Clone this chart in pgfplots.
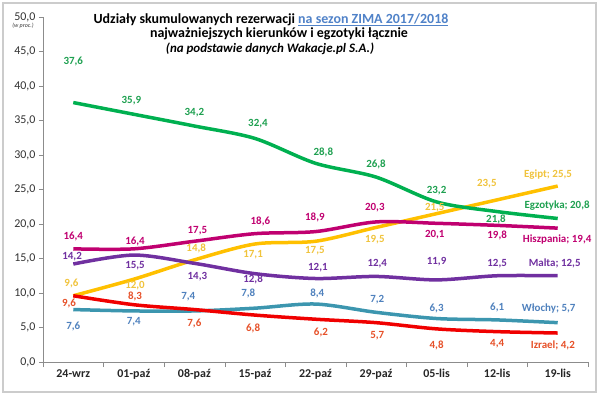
\documentclass[border=0pt]{standalone}
\usepackage{pgfplots}
\pgfplotsset{compat=1.18}
\usepackage{fontspec}
\setmainfont{Carlito}
\definecolor{cgreen}{RGB}{0,176,80}
\definecolor{cgreenlab}{RGB}{30,160,80}
\definecolor{cyellow}{RGB}{255,192,0}
\definecolor{cyellowlab}{RGB}{240,195,60}
\definecolor{cmag}{RGB}{192,0,112}
\definecolor{cpurple}{RGB}{112,48,160}
\definecolor{cteal}{RGB}{60,150,175}
\definecolor{cbluelab}{RGB}{79,129,189}
\definecolor{cred}{RGB}{240,0,0}
\definecolor{credlab}{RGB}{230,80,40}
\definecolor{ctitle}{RGB}{80,130,200}
\pgfplotsset{
  labnodes/.style={draw=none, forget plot, nodes near coords, point meta=explicit,
    nodes near coords={#1\pgfmathprintnumber[fixed,fixed zerofill,precision=1,use comma,assume math mode=true]{\pgfplotspointmeta}},
    every node near coord/.append style={anchor=center, font=\bfseries\fontsize{11}{13}\selectfont}},
  labnodes/.default={},
}
\begin{document}
\begin{tikzpicture}
\useasboundingbox (-43bp,-34bp) rectangle (557bp,362bp);
\draw[black!20, line width=1.2bp] (-40bp,-30bp) rectangle (553bp,359bp);
\begin{axis}[
  at={(0,0)}, anchor=south west, scale only axis,
  width=545bp, height=345bp,
  xmin=-0.5, xmax=8.5, ymin=0, ymax=50,
  ytick={0,5,...,50},
  xtick={0,...,8},
  xticklabels={24-wrz,01-paź,08-paź,15-paź,22-paź,29-paź,05-lis,12-lis,19-lis},
  minor xtick={-0.5,0.5,...,8.5},
  major x tick style={draw=none},
  minor x tick style={black!45},
  ytick style={black!45},
  axis x line*=bottom, axis y line*=left,
  axis line style={black!45,-},
  tick align=outside,
  major tick length=4bp, minor tick length=5bp,
  xticklabel style={font=\bfseries\fontsize{12}{14}\selectfont, text=black!85},
  yticklabel style={font=\fontsize{12}{14}\selectfont, text=black!80,
    /pgf/number format/.cd, fixed, fixed zerofill, precision=1, use comma, assume math mode=true},
  clip=false,
]
\pgfplotsset{every axis plot/.append style={line width=3.5bp}}
% Egipt
\addplot[cyellow, smooth, tension=0.5] coordinates {(0,9.6)(1,12.0)(2,14.8)(3,17.1)(4,17.5)(5,19.5)(6,21.5)(7,23.5)(8,25.5)};
% Hiszpania
\addplot[cmag, smooth, tension=0.5] coordinates {(0,16.4)(1,16.4)(2,17.5)(3,18.6)(4,18.9)(5,20.3)(6,20.1)(7,19.8)(8,19.4)};
% Malta
\addplot[cpurple, smooth, tension=0.5] coordinates {(0,14.2)(1,15.5)(2,14.3)(3,12.8)(4,12.1)(5,12.4)(6,11.9)(7,12.5)(8,12.5)};
% Wlochy
\addplot[cteal, smooth, tension=0.5] coordinates {(0,7.6)(1,7.4)(2,7.4)(3,7.8)(4,8.4)(5,7.2)(6,6.3)(7,6.1)(8,5.7)};
% Izrael
\addplot[cred, smooth, tension=0.5] coordinates {(0,9.6)(1,8.3)(2,7.6)(3,6.8)(4,6.2)(5,5.7)(6,4.8)(7,4.4)(8,4.2)};
% Egzotyka
\addplot[cgreen, smooth, tension=0.5] coordinates {(0,37.6)(1,35.9)(2,34.2)(3,32.4)(4,28.8)(5,26.8)(6,23.2)(7,21.8)(8,20.8)};

% value labels (x, label y position, value)
\addplot[labnodes, every node near coord/.append style={text=cgreenlab}] table[meta=v] {
x y v
0 43.5 37.6
0.96 37.9 35.9
2.0 36.1 34.2
3.05 34.6 32.4
4.13 30.4 28.8
5.0 28.7 26.8
6.0 24.9 23.2
6.98 20.7 21.8
};
\addplot[labnodes={Egzotyka;\ }, every node near coord/.append style={text=cgreenlab}] table[meta=v] {
x y v
7.99 22.6 20.8
};
\addplot[labnodes, every node near coord/.append style={text=cyellowlab}] table[meta=v] {
x y v
-0.03 11.4 9.6
1.02 11.1 12.0
2.03 16.5 14.8
2.97 15.6 17.1
3.99 16.2 17.5
4.98 17.7 19.5
5.97 22.3 21.5
6.83 25.9 23.5
};
\addplot[labnodes={Egipt;\ }, every node near coord/.append style={text=cyellowlab}] table[meta=v] {
x y v
7.84 27.2 25.5
};
\addplot[labnodes, every node near coord/.append style={text=cmag}] table[meta=v] {
x y v
0 18.2 16.4
1.02 17.5 16.4
2.05 19.1 17.5
3.09 20.3 18.6
3.99 21.0 18.9
4.98 22.3 20.3
5.97 18.4 20.1
7.0 18.4 19.8
};
\addplot[labnodes={Hiszpania;\ }, every node near coord/.append style={text=cmag}] table[meta=v] {
x y v
7.99 17.7 19.4
};
\addplot[labnodes, every node near coord/.append style={text=cpurple}] table[meta=v] {
x y v
-0.02 15.3 14.2
1.02 14.0 15.5
2.05 12.4 14.3
2.97 12.0 12.8
4.04 13.7 12.1
5.02 14.3 12.4
6.0 14.6 11.9
7.0 14.3 12.5
};
\addplot[labnodes={Malta;\ }, every node near coord/.append style={text=cpurple}] table[meta=v] {
x y v
7.95 14.3 12.5
};
\addplot[labnodes, every node near coord/.append style={text=cbluelab}] table[meta=v] {
x y v
0 5.1 7.6
1.0 5.8 7.4
1.9 9.4 7.4
2.89 10.0 7.8
4.03 10.0 8.4
5.02 9.0 7.2
6.0 7.8 6.3
7.0 7.9 6.1
};
\addplot[labnodes={Włochy;\ }, every node near coord/.append style={text=cbluelab}] table[meta=v] {
x y v
7.85 7.8 5.7
};
\addplot[labnodes, every node near coord/.append style={text=credlab}] table[meta=v] {
x y v
-0.07 8.5 9.6
1.02 9.5 8.3
2.0 5.6 7.6
2.97 4.9 6.8
4.09 4.3 6.2
5.02 3.8 5.7
6.0 2.4 4.8
7.0 2.6 4.4
};
\addplot[labnodes={Izrael;\ }, every node near coord/.append style={text=credlab}] table[meta=v] {
x y v
7.92 2.4 4.2
};
\end{axis}
\node[font=\bfseries\fontsize{14}{16}\selectfont] at (228bp,342bp) {Udziały skumulowanych rezerwacji \textcolor{ctitle}{\underline{na sezon ZIMA 2017/2018}}};
\node[font=\bfseries\fontsize{14}{16}\selectfont] at (236bp,328bp) {najważniejszych kierunków i egzotyki łącznie};
\node[font=\bfseries\itshape\fontsize{13}{15}\selectfont] at (227bp,313bp) {(na podstawie danych Wakacje.pl S.A.)};
\node[font=\itshape\fontsize{6}{7}\selectfont, text=black!80] at (-20bp,336bp) {(w proc.)};
\end{tikzpicture}
\end{document}
